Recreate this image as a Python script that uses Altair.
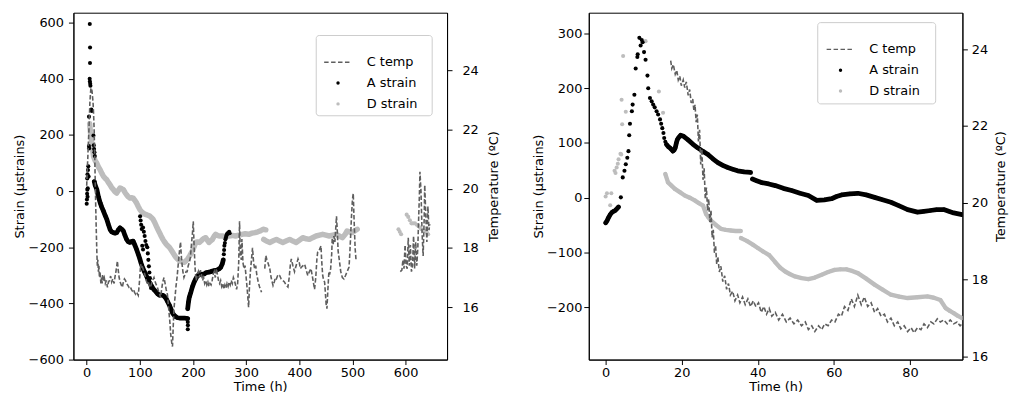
import altair as alt
import pandas as pd

FONT = "DejaVu Sans"
C_A = "#000000"
C_D = "#bdbdbd"
C_T = "#5e5e5e"

# ---------------- left panel (0-650 h) ----------------
# A strain: scattered early points (t, strain)
LA_early = [(0.0, -45), (0.4, -30), (0.8, -10), (1.2, 5), (1.6, -20), (2.0, 10), (1.0, 45), (1.5, 60),
            (2.4, 75), (3.0, 88), (3.6, 52), (4.2, 160), (4.6, 152), (4.3, 265), (5.6, 400), (6.0, 390),
            (6.6, 382), (7.0, 375), (6.2, 456), (6.3, 511), (5.8, 595), (8.7, 290), (9.6, 285),
            (12.7, 198), (13.3, 163), (13.9, 150), (14.6, 138), (15.2, 125)]
LA_dense1 = [(14.3, 34), (16, 20), (19.2, 5), (22, -20), (25.4, -42), (28.5, -58), (31.7, -72), (35, -88),
             (37.9, -101), (41, -120), (44, -137), (47, -145), (50.3, -148), (53.5, -150), (56.5, -148),
             (59.5, -138), (62.7, -131), (66, -136), (69, -142), (72, -158), (75, -172), (78, -180),
             (81, -183), (84, -180), (87.5, -178), (90.5, -192), (93.7, -207), (97, -225), (100, -242),
             (102, -255), (104, -266), (108, -285), (112, -301), (116, -318), (119, -328), (121.6, -336),
             (126, -350), (131, -360), (134, -367), (137, -371), (140, -370), (143.4, -371), (146.5, -376),
             (149.5, -383), (152.5, -395), (155.8, -407), (159, -422), (162, -436), (165, -443), (168, -448),
             (171, -451), (174.4, -452), (179, -452), (183.7, -452), (187, -453), (190, -454)]
LA_branch = [(100.5, -90), (101.5, -105), (102.5, -120), (103.5, -135), (106, -130), (107.5, -145),
             (109, -160), (110.5, -178), (112, -192), (104.5, -195), (106, -208), (114, -200), (115, -222),
             (116, -245), (117, -268), (118, -290), (119, -310), (120, -330), (121, -345)]
LA_drop = [(190.2, -466), (190.4, -478), (190.2, -492)]
LA_dense2 = [(190, -419), (191.5, -395), (193, -378), (196, -360), (199, -340), (202, -325), (205, -313),
             (208, -303), (212, -295), (216, -297), (221, -295), (225, -290), (230, -289), (235, -286),
             (240, -283), (245, -281), (249, -277), (252, -272), (255, -260), (257, -245)]
LA_rise = [(258, -225), (258.5, -210), (259, -195), (260, -185), (261, -172), (262, -165), (263, -158),
           (264, -154), (265, -150), (266.5, -150), (268, -145), (269, -150)]

# D strain
LD_dense1 = [(5.6, 240), (7, 210), (8.8, 181), (11, 150), (13, 122), (16, 108), (19, 99), (22, 86),
             (25.4, 75), (28.5, 63), (31.7, 52), (35, 45), (37.8, 40), (41, 30), (44, 22), (47, 12),
             (50.3, 5), (53, -2), (56.4, -7), (59.5, 2), (62.7, 11), (66, 8), (69, 5), (72, -5), (75, -13),
             (78, -20), (81.4, -25), (84.5, -24), (87.5, -25), (90.5, -33), (93.7, -42), (97, -55),
             (100, -66), (103, -73), (106, -78), (109, -82), (112, -84), (115, -86), (118.6, -89),
             (122, -95), (125, -101), (128, -112), (131, -125), (134, -137), (137, -148), (140, -160),
             (143.4, -172), (146.5, -181), (149.5, -189), (152.5, -195), (155.8, -201), (159, -210),
             (162, -219), (165, -228), (168, -236), (171, -242), (174.4, -248), (179, -252), (183.8, -254),
             (187, -248), (190, -242), (194, -230), (199, -213), (202, -198), (205, -183), (208.5, -181),
             (212, -183), (215, -178), (218, -172), (221, -168), (224, -166), (227, -175), (230, -183),
             (233, -178), (236.5, -172), (240, -160), (242.7, -154), (246, -158), (249, -160), (255, -160),
             (261, -162), (267.6, -160), (274, -158), (280, -160), (286, -157), (292, -154), (298, -152),
             (305, -154), (311, -150), (317, -148), (322, -145), (326.6, -142), (332, -136), (337, -138)]
LD_dense2 = [(333, -172), (338, -178), (344.5, -183), (350, -178), (357, -172), (363, -178), (369, -183),
             (375, -178), (382, -172), (388, -178), (394, -183), (400, -175), (406.5, -166), (413, -170),
             (419, -172), (425, -166), (431.5, -160), (438, -157), (444, -154), (450, -157), (456.5, -160),
             (463, -157), (469, -154), (475, -160), (481, -166), (486, -155), (490, -142), (495, -146),
             (499.6, -148), (504, -142), (509, -136)]
LD_late = [(586.6, -136), (589, -145), (591.6, -154), (602, -84), (605, -92), (608, -104), (611, -115),
           (614, -115), (617.6, -115), (621, -120), (624, -124), (627, -130), (630, -136), (633, -139),
           (636.6, -142), (640, -148), (642.5, -154)]

# C temperature (t, degC), three recorded stretches
LC_1 = [(0, 20.1), (1, 20.6), (2, 21.0), (3, 21.5), (4, 21.9), (5, 22.4), (6, 22.9), (7, 23.2), (8, 23.4),
        (9, 23.35), (10, 23.3), (11, 23.1), (12, 22.9), (13, 22.5), (14, 22.0), (15, 21.2), (16, 20.3),
        (17, 19.4), (18, 18.6), (19, 17.9), (20, 17.4), (21, 17.6), (22, 17.2), (23, 17.4), (24, 17.0),
        (25, 17.2), (26.7, 16.8), (28, 17.0), (29, 16.8), (30, 17.1), (31, 16.9), (33, 17.0), (35, 16.8),
        (37, 16.9), (39, 16.67), (41, 16.85), (43, 16.9), (45, 17.05), (47, 16.85), (49, 16.95),
        (51.6, 16.8), (53, 17.0), (55, 17.2), (57.8, 17.56), (59, 17.3), (61, 17.0), (63, 16.85),
        (65, 16.75), (67, 16.67), (69, 16.85), (71, 16.95), (73, 16.9), (75, 16.8), (77, 16.75),
        (79.6, 16.67), (82, 16.7), (84, 16.6), (85.8, 16.55), (88, 16.6), (90, 16.5), (92, 16.44),
        (94, 16.5), (97, 16.4), (99, 16.8), (101.5, 17.45), (103, 17.3), (105, 17.35), (107.8, 17.2),
        (110, 17.05), (112, 16.9), (114, 16.8), (116, 16.85), (118, 16.7), (120, 16.67), (122, 16.8),
        (124, 16.9), (126.6, 17.0), (129, 16.85), (131, 16.75), (133, 16.67), (135, 16.55), (137, 16.45),
        (139, 16.33), (141, 16.6), (143, 16.85), (145.5, 17.0), (147.5, 16.8), (149.5, 16.6),
        (151.8, 16.44), (153.5, 16.1), (155, 15.8), (156.5, 15.5), (158, 15.1), (160, 14.8),
        (161.4, 14.67), (162.5, 15.2), (164, 15.9), (166, 16.3), (168, 16.7), (170, 17.0), (172, 17.4),
        (174, 17.8), (176.5, 18.2), (178.5, 17.6), (181, 17.2), (183, 17.0), (185, 17.1), (187, 17.2),
        (189, 17.2), (191, 17.4), (193, 17.5), (195, 17.67), (197, 18.1), (199, 18.5), (200.5, 18.9),
        (202, 18.1), (204, 17.3), (206, 16.9), (208, 17.1), (210, 17.2), (212, 17.0), (214, 17.25),
        (216, 17.1), (218, 16.9), (220, 17.0), (222, 16.8), (224, 16.9), (226, 16.75), (228, 16.85),
        (230, 16.7), (232, 16.8), (234, 16.75), (236, 16.9), (238, 17.1), (240, 17.2), (242, 17.0),
        (244, 17.3), (246, 17.1), (248, 16.9), (250, 16.8), (252, 16.9), (254, 16.7), (256, 16.8),
        (258, 16.6), (260, 16.75), (262, 16.65), (264, 16.8), (266, 16.7), (268, 16.85), (270, 16.75),
        (272, 16.9), (274, 16.8), (276, 17.0), (278, 16.9), (280, 16.75), (282, 16.6), (284, 16.8),
        (286, 17.5), (287.6, 18.9), (289, 17.8), (291, 17.6), (292, 18.3), (294, 17.5), (296, 17.3),
        (298, 17.4), (300, 17.0), (302, 16.6), (304.6, 16.0), (306, 16.6), (308, 17.2), (310, 17.6),
        (312, 18.0), (314, 17.5), (316, 17.3), (318, 17.4), (320, 17.1), (322.7, 16.85), (325, 16.7),
        (327, 16.6), (329, 16.5)]
LC_2 = [(335, 17.3), (337, 17.74), (339, 17.6), (341, 17.5), (344.5, 17.3), (347, 17.0), (350.6, 16.73),
        (353, 16.85), (355, 17.0), (357, 16.96), (360, 17.1), (363, 17.07), (366, 16.95), (369, 16.9),
        (372, 16.85), (375, 16.75), (378.6, 16.68), (381, 17.0), (383, 17.4), (385, 17.63), (388, 17.4),
        (391, 17.2), (394, 17.4), (397.6, 17.63), (400, 17.5), (402, 17.3), (404, 17.35), (407, 17.4),
        (410, 17.45), (413, 17.25), (416, 17.07), (419, 17.2), (422, 17.3), (425, 17.0), (428.7, 16.6),
        (431, 17.0), (433, 17.6), (434.5, 17.85), (437, 17.9), (440.8, 18.07), (442, 17.6), (444, 17.07),
        (446, 16.9), (447.6, 16.85), (449, 16.5), (450.5, 16.1), (452, 15.95), (453.5, 16.5),
        (455.7, 17.2), (457, 17.1), (459, 17.3), (461, 17.8), (462, 18.34), (463.7, 18.1), (465, 18.4),
        (467, 18.2), (470, 19.07), (471.7, 18.5), (473, 17.9), (475, 17.63), (478, 17.2), (481, 17.0),
        (484, 16.95), (487, 17.07), (490, 17.2), (493.6, 17.35), (495, 17.8), (496.6, 18.4), (498, 19.0),
        (500, 19.63), (501.5, 19.84), (503, 19.0), (505, 18.0), (506.7, 17.6)]
LC_3 = [(590, 17.2), (593, 17.25), (595, 17.6), (597, 17.3), (599, 18.1), (601, 17.4), (603, 17.3),
        (605, 18.34), (607, 17.4), (609, 18.1), (611, 17.2), (613, 17.4), (615, 18.4), (617, 17.3),
        (619, 18.2), (621, 17.4), (623, 18.0), (624, 18.67), (626, 19.8), (627, 20.57), (629, 19.9),
        (631, 18.5), (633, 17.73), (635, 19.0), (636, 20.12), (638, 19.1), (640, 18.2), (642, 19.4),
        (644, 18.6), (645.5, 18.8)]

# ---------------- right panel (0-94 h) ----------------
RA_dense0 = [(0, -46), (0.4, -42), (0.8, -36), (1.2, -31), (1.65, -27), (2.1, -25), (2.5, -23.5),
             (3.0, -20), (3.4, -17)]
RA_sparse = [(4.0, 0.5), (4.5, 37), (4.95, 49), (5.3, 61), (5.7, 73), (6.0, 85), (6.2, 114), (6.4, 135),
             (6.9, 158), (7.1, 170), (7.56, 188), (7.9, 236), (8.34, 257), (8.43, 262), (8.87, 292),
             (9.2, 278), (9.5, 288), (9.73, 284), (10.1, 266), (10.5, 252), (11.0, 223), (11.2, 200),
             (11.65, 182), (12.1, 176), (12.5, 170), (12.9, 165), (13.4, 158), (13.8, 152), (14.3, 143),
             (14.6, 135), (14.9, 127), (15.2, 118), (15.4, 109), (15.7, 102)]
RA_dense1 = [(16.0, 97), (16.5, 93), (16.9, 91), (17.3, 88), (17.7, 85), (18.0, 87), (18.3, 91),
             (18.6, 100), (18.85, 106), (19.2, 110), (19.7, 114), (20.5, 112), (21.6, 106), (22.9, 98),
             (24.2, 91), (25.5, 85), (26.9, 79), (28.2, 71), (29.5, 64), (30.8, 59), (32.1, 55),
             (33.4, 52), (34.7, 49), (36.4, 47), (38.1, 46)]
RA_dense2 = [(38.6, 34), (39.7, 31), (40.8, 28), (42.9, 25), (44.6, 22), (46.7, 17), (48.9, 13),
             (51.1, 8), (53.3, 4), (55.5, -5), (57.5, -4), (59.4, -2), (60.7, 2), (62, 5), (64.2, 7),
             (66.3, 8), (68.5, 5), (70.7, 0.5), (72.8, -4), (75, -8.5), (77.2, -15), (79.4, -22), (82, -26.5),
             (83.7, -25), (85.4, -23.5), (87, -22), (88.9, -21.7), (90.2, -25), (91.5, -28), (93.7, -31)]
RD_sparse = [(0, 2), (0.35, 8), (1.2, -14), (1.5, 8), (2.35, 49), (2.6, 45), (2.9, 55), (3.2, 62),
             (3.4, 70), (3.9, 80), (4.1, 79), (4.2, 179), (4.35, 134), (5.3, 157), (4.6, 259), (10.5, 286),
             (14.0, 194), (15.1, 155)]
RD_dense1 = [(15.7, 43), (16.4, 28), (17.3, 22), (18.2, 16), (19.5, 10), (20.8, 4), (22.1, 0), (23.4, -5),
             (24.5, -10), (25.6, -14.5), (26.4, -30), (27.0, -36), (27.7, -42), (29, -50), (30.3, -57),
             (31.6, -59), (32.9, -60), (34.2, -61), (35.5, -61)]
RD_dense2 = [(35.6, -74), (37.1, -79), (38.7, -86), (40, -92), (41.3, -98), (43, -105), (44.6, -118),
             (45.9, -128), (47.2, -135), (48.5, -140), (49.8, -144), (51.5, -147), (53.3, -149), (55, -146),
             (56.8, -141), (58.5, -136), (60.2, -132), (61.7, -131), (63.3, -131), (64.8, -134),
             (66.3, -138), (68.5, -148), (70.7, -159), (72.8, -168), (75, -177.5), (77.2, -181),
             (79.4, -183.5), (82, -182), (84.6, -180.6), (86.3, -183), (88, -187), (89.4, -202),
             (90.5, -207), (91.5, -211), (92.6, -216), (93.7, -220)]
RC_1 = [(17.1, 23.7), (17.4, 23.5), (17.8, 23.6), (18.3, 23.35), (18.7, 23.45), (19.1, 23.2), (19.5, 23.3),
        (19.9, 23.05), (20.4, 23.2), (20.8, 23.0), (21.2, 23.15), (21.7, 22.8), (22.1, 22.95), (22.5, 22.6),
        (22.9, 22.7), (23.2, 22.4), (23.5, 22.55), (23.8, 22.1), (24.1, 22.3), (24.4, 21.6), (24.7, 21.9),
        (25.0, 21.0), (25.3, 21.4), (25.6, 20.6), (25.9, 20.9), (26.2, 20.1), (26.5, 20.4), (26.8, 19.8),
        (27.1, 20.1), (27.4, 19.5), (27.7, 19.8), (28.0, 19.1), (28.3, 19.3), (28.6, 18.7), (28.9, 18.9),
        (29.2, 18.4), (29.5, 18.6), (29.9, 18.2), (30.3, 18.35), (30.8, 17.95), (31.3, 18.1),
        (31.8, 17.75), (32.3, 17.9), (32.8, 17.6), (33.4, 17.7), (34.0, 17.45), (34.7, 17.6),
        (35.3, 17.4), (36.0, 17.55), (36.7, 17.35), (37.4, 17.5), (38.1, 17.3), (38.8, 17.45),
        (39.5, 17.3), (40.2, 17.4), (40.9, 17.15), (41.6, 17.3), (42.3, 17.1), (43.0, 17.25),
        (43.7, 17.05), (44.6, 17.15), (45.5, 16.95), (46.5, 17.1), (47.5, 16.9), (48.5, 17.0),
        (49.5, 16.85), (50.5, 16.95), (51.5, 16.8), (52.5, 16.9), (53.3, 16.7), (54.2, 16.8), (55, 16.65),
        (56, 16.8), (56.8, 16.7), (57.6, 16.85), (58.5, 16.8), (59.4, 16.95), (60.3, 16.9), (61.2, 17.1),
        (62, 17.05), (62.8, 17.3), (63.7, 17.2), (64.6, 17.5), (65.4, 17.3), (66.3, 17.6), (67.2, 17.35),
        (68, 17.55), (68.9, 17.3), (69.8, 17.4), (70.7, 17.15), (71.5, 17.25), (72.4, 17.05), (73.3, 17.1),
        (74.1, 16.9), (75, 17.0), (75.9, 16.8), (76.8, 16.9), (77.6, 16.72), (78.5, 16.8), (79.4, 16.65),
        (80.3, 16.75), (81.1, 16.62), (82, 16.75), (82.9, 16.7), (83.7, 16.85), (84.6, 16.75), (85.5, 16.9),
        (86.3, 16.85), (87.2, 16.98), (88, 16.9), (88.9, 16.95), (89.8, 16.85), (90.6, 16.95),
        (91.5, 16.85), (92.4, 16.9), (93.2, 16.8), (93.7, 16.85)]

LEGEND_LABELS = ["C temp", "A strain", "D strain"]


def frame(parts):
    rows = []
    for seg, pts in parts:
        for t, v in pts:
            rows.append({"t": t, "v": v, "seg": seg})
    return pd.DataFrame(rows)


def panel(A_df, D_df, T_df, xdom, xvals, sdom, svals, tdom, tvals, leg, pads, widths):
    lpad_l, tpad_l, lpad_r, tpad_r = pads
    wA, wD = widths
    X = alt.X("t:Q", scale=alt.Scale(domain=xdom, nice=False, zero=False),
              axis=alt.Axis(values=xvals, title="Time (h)", labelFlush=False, labelOverlap=False))
    YS = alt.Y("v:Q", scale=alt.Scale(domain=sdom, nice=False, zero=False),
               axis=alt.Axis(values=svals, title="Strain (μstrains)", orient="left",
                             labelPadding=lpad_l, titlePadding=tpad_l, labelOverlap=False))
    YT = alt.Y("v:Q", scale=alt.Scale(domain=tdom, nice=False, zero=False),
               axis=alt.Axis(values=tvals, title="Temperature (ºC)", orient="right",
                             labelPadding=lpad_r, titlePadding=tpad_r, titleAngle=270, titleBaseline="top",
                             labelOverlap=False))

    def series(df, color, w):
        line = (alt.Chart(df).transform_filter("datum.seg != 'p'")
                .mark_line(color=color, strokeWidth=w, strokeCap="round", strokeJoin="round", clip=True)
                .encode(x=X, y=YS, detail="seg:N"))
        pts = alt.Chart(df).mark_circle(size=17, opacity=1, color=color, clip=True).encode(x=X, y=YS)
        return [line, pts]

    strain = alt.layer(*series(D_df, C_D, wD), *series(A_df, C_A, wA))
    temp = (alt.Chart(T_df)
            .mark_line(color=C_T, strokeWidth=1.6, strokeDash=[4.5, 2.2], clip=True)
            .encode(x=X, y=YT, detail="seg:N"))

    bx0, bx1, by0, by1, r1, r2, r3, dx0, dx1, dot, tx = leg
    one = pd.DataFrame({"k": [0]})
    box = alt.Chart(one).mark_rect(fill="white", fillOpacity=0.85, stroke="#cccccc", strokeWidth=1,
                                   cornerRadius=3).encode(
        x=alt.value(bx0), x2=alt.value(bx1), y=alt.value(by0), y2=alt.value(by1))
    dash = alt.Chart(one).mark_rule(color=C_T, strokeWidth=1.4, strokeDash=[4.5, 2.5]).encode(
        x=alt.value(dx0), x2=alt.value(dx1), y=alt.value(r1))
    dotA = alt.Chart(one).mark_circle(size=12, opacity=1, color=C_A).encode(x=alt.value(dot), y=alt.value(r2))
    dotD = alt.Chart(one).mark_circle(size=12, opacity=1, color=C_D).encode(x=alt.value(dot), y=alt.value(r3))
    texts = [alt.Chart(one).mark_text(text=lab, align="left", baseline="middle", fontSize=13,
                                      font=FONT, color="black").encode(x=alt.value(tx), y=alt.value(ry))
             for lab, ry in zip(LEGEND_LABELS, [r1, r2, r3])]

    return (alt.layer(strain, temp, box, dash, dotA, dotD, *texts)
            .resolve_scale(y="independent")
            .properties(width=377, height=350))


left = panel(
    frame([("p", LA_early), ("l1", LA_dense1), ("p", LA_branch), ("p", LA_drop), ("l2", LA_dense2),
           ("p", LA_rise)]),
    frame([("l1", LD_dense1), ("l2", LD_dense2), ("p", LD_late)]),
    frame([("c1", LC_1), ("c2", LC_2), ("c3", LC_3)]),
    [-25, 678], [0, 100, 200, 300, 400, 500, 600],
    [-600, 635], [-600, -400, -200, 0, 200, 400, 600],
    [14.23, 25.94], [16, 18, 20, 22, 24],
    (245, 362, 23, 104, 50, 71, 92, 253, 280, 267, 296),
    (5, 2, 10, 9), (4.8, 5.5),
)

right = panel(
    frame([("l0", RA_dense0), ("p", RA_sparse), ("l1", RA_dense1), ("l2", RA_dense2)]),
    frame([("p", RD_sparse), ("l1", RD_dense1), ("l2", RD_dense2)]),
    frame([("c1", RC_1)]),
    [-4.43, 93.8], [0, 20, 40, 60, 80],
    [-296, 338], [-200, -100, 0, 100, 200, 300],
    [15.92, 24.95], [16, 18, 20, 22, 24],
    (231, 350, 10, 92, 37, 58, 79, 240, 266, 254, 283),
    (2, 1, 4, 7), (4.8, 4.4),
)

chart = (alt.hconcat(left, right, spacing=30)
         .properties(padding={"left": 4, "top": 2, "right": 0, "bottom": 0})
         .configure(font=FONT)
         .configure_view(stroke="#000000", strokeWidth=1)
         .configure_axis(grid=False, domainColor="#000000", tickColor="#000000", labelColor="#000000",
                         titleColor="#000000", labelFont=FONT, titleFont=FONT, labelFontSize=13,
                         titleFontSize=13, titleFontWeight="normal", tickSize=5, domainWidth=1, tickWidth=1)
         .configure_axisX(labelPadding=2, titlePadding=1))

chart.save("out.html", embed_options={"renderer": "svg", "actions": False})
